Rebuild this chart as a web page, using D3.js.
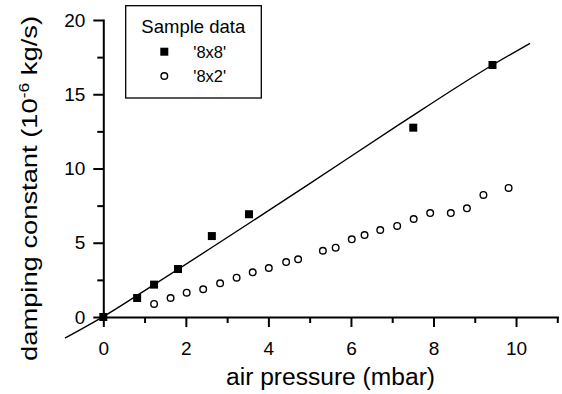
<!DOCTYPE html>
<html><head><meta charset="utf-8">
<script src="https://cdn.jsdelivr.net/npm/d3@7"></script>
<style>
body{margin:0;background:#fff}
svg{display:block}
text{font-family:"Liberation Sans",Arial,sans-serif;fill:#000}
</style>
</head><body>
<svg id="chart" width="562" height="394"></svg>
<script>
// ---- data ----
const series8x8X = [0, 0.82, 1.23, 1.81, 2.63, 3.53, 7.51, 9.43];
const series8x8Y = [0, 1.28, 2.18, 3.23, 5.45, 6.92, 12.75, 16.97];

const series8x2X = [1.23, 1.63, 2.02, 2.42, 2.83, 3.23, 3.62, 4.01, 4.43, 4.72, 5.32, 5.63,
                    6.02, 6.33, 6.71, 7.12, 7.52, 7.92, 8.42, 8.81, 9.21, 9.82];
const series8x2Y = [0.88, 1.28, 1.64, 1.87, 2.27, 2.65, 3.01, 3.30, 3.70, 3.89, 4.46, 4.67,
                    5.23, 5.52, 5.86, 6.13, 6.60, 7.00, 7.00, 7.32, 8.22, 8.69];

const fitX = [-0.93, 0, 1.23, 5.01, 7.19, 9.43, 10.34];
const fitY = [-1.43, 0.02, 2.18, 9.0, 13.0, 16.97, 18.43];

const xMajorTicks = [0, 2, 4, 6, 8, 10];
const xMinorTicks = [1, 3, 5, 7, 9, 11];
const yMajorTicks = [0, 5, 10, 15, 20];
const yMinorTicks = [2.5, 7.5, 12.5, 17.5];

const legendTitle = "Sample data";
const legendLabels = ["'8x8'", "'8x2'"];
const xTitle = "air pressure (mbar)";

// ---- drawing ----
const svg = d3.select("#chart");
const x = d3.scaleLinear().domain([0, 11]).range([103.3, 557.3]);
const y = d3.scaleLinear().domain([0, 20]).range([317, 20]);

function styleAxis(g, fs) {
  g.select(".domain").attr("stroke", "#000").attr("stroke-width", 2).attr("stroke-linecap", "square");
  g.selectAll(".tick line").attr("stroke", "#000").attr("stroke-width", 2);
  g.selectAll(".tick text").attr("font-size", fs).attr("font-family", '"Liberation Sans",Arial,sans-serif').attr("fill", "#000");
}

// x axis
const gxMinor = svg.append("g").attr("transform", "translate(0,317)")
  .call(d3.axisBottom(x).tickValues(xMinorTicks).tickSize(6).tickSizeOuter(0).tickFormat(""));
gxMinor.select(".domain").remove();
gxMinor.selectAll(".tick line").attr("stroke", "#000").attr("stroke-width", 2);

const gx = svg.append("g").attr("transform", "translate(0,317)")
  .call(d3.axisBottom(x).tickValues(xMajorTicks).tickSize(10).tickSizeOuter(0).tickPadding(15).tickFormat(d3.format("d")));
styleAxis(gx, 19);

// y axis
const gyMinor = svg.append("g").attr("transform", "translate(103.3,0)")
  .call(d3.axisLeft(y).tickValues(yMinorTicks).tickSize(6).tickSizeOuter(0).tickFormat(""));
gyMinor.select(".domain").remove();
gyMinor.selectAll(".tick line").attr("stroke", "#000").attr("stroke-width", 2);

const gy = svg.append("g").attr("transform", "translate(103.3,0)")
  .call(d3.axisLeft(y).tickValues(yMajorTicks).tickSize(10).tickSizeOuter(0).tickPadding(8).tickFormat(d3.format("d")));
styleAxis(gy, 19);

// fit line
const fitData = fitX.map((v, i) => [v, fitY[i]]);
svg.append("path")
  .attr("d", d3.line().curve(d3.curveMonotoneX).x(d => x(d[0])).y(d => y(d[1]))(fitData))
  .attr("fill", "none").attr("stroke", "#000").attr("stroke-width", 1.4);

// 8x2 open circles
const data8x2 = series8x2X.map((v, i) => [v, series8x2Y[i]]);
svg.append("g").selectAll("circle").data(data8x2).join("circle")
  .attr("cx", d => x(d[0])).attr("cy", d => y(d[1])).attr("r", 3.3)
  .attr("fill", "#fff").attr("stroke", "#000").attr("stroke-width", 1.4);

// 8x8 filled squares
const data8x8 = series8x8X.map((v, i) => [v, series8x8Y[i]]);
svg.append("g").selectAll("rect").data(data8x8).join("rect")
  .attr("x", d => x(d[0]) - 4).attr("y", d => y(d[1]) - 4)
  .attr("width", 8).attr("height", 8).attr("fill", "#000");

// axis titles
svg.append("text")
  .attr("x", 330.5).attr("y", 385).attr("text-anchor", "middle")
  .attr("font-size", 23).attr("textLength", 209).attr("lengthAdjust", "spacingAndGlyphs")
  .text(xTitle);

const yt = svg.append("text")
  .attr("transform", "translate(37,188.5) rotate(-90)")
  .attr("text-anchor", "middle").attr("font-size", 22)
  .attr("textLength", 345).attr("lengthAdjust", "spacingAndGlyphs");
yt.append("tspan").text("damping constant (10");
yt.append("tspan").attr("font-size", 14).attr("dy", -8).text("-6");
yt.append("tspan").attr("dy", 8).text(" kg/s)");

// legend
const lg = svg.append("g");
lg.append("rect").attr("x", 125.7).attr("y", 5.7).attr("width", 135.6).attr("height", 92.3)
  .attr("fill", "#fff").attr("stroke", "#000").attr("stroke-width", 1.3);
lg.append("text").attr("x", 193.3).attr("y", 33.3).attr("text-anchor", "middle")
  .attr("font-size", 18.5).text(legendTitle);
lg.append("rect").attr("x", 164.3 - 4).attr("y", 51.7 - 4).attr("width", 8).attr("height", 8).attr("fill", "#000");
lg.append("circle").attr("cx", 164.3).attr("cy", 76).attr("r", 3.3)
  .attr("fill", "#fff").attr("stroke", "#000").attr("stroke-width", 1.4);
lg.append("text").attr("x", 193.3).attr("y", 58.3).attr("font-size", 16.5).text(legendLabels[0]);
lg.append("text").attr("x", 193.3).attr("y", 81.7).attr("font-size", 16.5).text(legendLabels[1]);
</script>
</body></html>
